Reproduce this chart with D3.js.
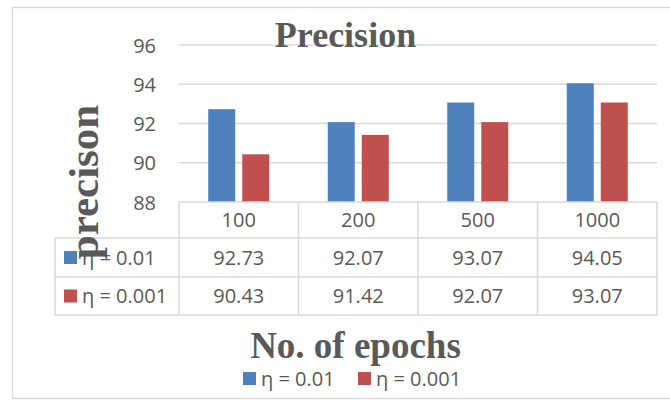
<!DOCTYPE html>
<html><head><meta charset="utf-8">
<script src="https://cdn.jsdelivr.net/npm/d3@7"></script>
<style>body{margin:0;background:#fff;}svg{display:block;}</style>
</head><body>
<svg id="c" width="670" height="400"></svg>
<script>
const categories = ["100", "200", "500", "1000"];
const seriesNames = ["η = 0.01", "η = 0.001"];
const seriesA = [92.73, 92.07, 93.07, 94.05];
const seriesB = [90.43, 91.42, 92.07, 93.07];
const yTicks = [88, 90, 92, 94, 96];
const colors = ["#4F81BD", "#C0504D"];
const seriesValues = [seriesA, seriesB];

const svg = d3.select("#c");
const grey = "#595959", lineC = "#D9D9D9";
const sans = "'Open Sans', sans-serif";
const serif = "'Liberation Serif', 'Times New Roman', serif";

// outer border
svg.append("rect").attr("x", 12.5).attr("y", 7.5).attr("width", 700).attr("height", 391)
  .attr("fill", "none").attr("stroke", lineC).attr("stroke-width", 1.3);

const x0 = d3.scaleBand().domain(categories).range([179, 657]);
const x1 = d3.scaleBand().domain(seriesNames).range([0, x0.bandwidth()]).paddingInner(0.206).paddingOuter(0.86);
const y = d3.scaleLinear().domain([88, 96]).range([202, 45]);

// gridlines
svg.append("g").selectAll("line").data(yTicks.slice(1)).join("line")
  .attr("x1", 179).attr("x2", 657).attr("y1", d => y(d)).attr("y2", d => y(d))
  .attr("stroke", lineC).attr("stroke-width", 1.5);

// y axis labels
const yAxis = d3.axisLeft(y).tickValues(yTicks).tickSize(0).tickPadding(0);
const gy = svg.append("g").attr("transform", "translate(156,0)").call(yAxis);
gy.select(".domain").remove();
gy.selectAll("text").attr("font-family", sans).attr("font-size", 20).attr("fill", grey).attr("dy", "0.35em");

// bars
const g = svg.append("g");
categories.forEach((c, i) => {
  seriesNames.forEach((s, j) => {
    const v = seriesValues[j][i];
    g.append("rect").attr("x", x0(c) + x1(s)).attr("width", x1.bandwidth())
      .attr("y", y(v)).attr("height", y(88) - y(v)).attr("fill", colors[j]);
  });
});

// data table
const rowY = [202, 238, 277, 315];
const t = svg.append("g").attr("stroke", lineC).attr("stroke-width", 1.5);
t.append("line").attr("x1", 179).attr("x2", 657).attr("y1", rowY[0]).attr("y2", rowY[0]);
[1, 2, 3].forEach(k => t.append("line").attr("x1", 55).attr("x2", 657).attr("y1", rowY[k]).attr("y2", rowY[k]));
t.append("line").attr("x1", 55).attr("x2", 55).attr("y1", rowY[1]).attr("y2", rowY[3]);
const colEdges = [179].concat(categories.map(c => x0(c) + x0.bandwidth()));
colEdges.forEach(xv => t.append("line").attr("x1", xv).attr("x2", xv).attr("y1", rowY[0]).attr("y2", rowY[3]));

const txt = svg.append("g").attr("font-family", sans).attr("font-size", 20).attr("fill", grey).attr("text-anchor", "middle");
categories.forEach((c, i) => {
  const cx = x0(c) + x0.bandwidth() / 2;
  txt.append("text").attr("x", cx).attr("y", (rowY[0] + rowY[1]) / 2).attr("dy", "0.35em").text(c);
  seriesValues.forEach((arr, j) => {
    txt.append("text").attr("x", cx).attr("y", (rowY[j + 1] + rowY[j + 2]) / 2).attr("dy", "0.35em").text(arr[i].toFixed(2));
  });
});
seriesNames.forEach((s, j) => {
  const cy = (rowY[j + 1] + rowY[j + 2]) / 2;
  svg.append("rect").attr("x", 64).attr("y", cy - 6.5).attr("width", 13).attr("height", 13).attr("fill", colors[j]);
  svg.append("text").attr("x", 82).attr("y", cy).attr("dy", "0.35em").attr("font-family", sans)
    .attr("font-size", 20).attr("fill", grey).text(s);
});

// titles
svg.append("text").attr("x", 345.5).attr("y", 47).attr("text-anchor", "middle")
  .attr("font-family", serif).attr("font-weight", "bold").attr("font-size", 36).attr("fill", grey).text("Precision");
svg.append("text").attr("x", 355.5).attr("y", 358).attr("text-anchor", "middle")
  .attr("font-family", serif).attr("font-weight", "bold").attr("font-size", 37).attr("fill", grey).text("No. of epochs");
svg.append("text").attr("transform", "translate(98,182) rotate(-90)").attr("text-anchor", "middle")
  .attr("font-family", serif).attr("font-weight", "bold").attr("font-size", 43).attr("fill", grey).text("precison");

// bottom legend
const legX = [243, 358];
seriesNames.forEach((s, j) => {
  svg.append("rect").attr("x", legX[j]).attr("y", 372).attr("width", 13).attr("height", 13).attr("fill", colors[j]);
  svg.append("text").attr("x", legX[j] + 18).attr("y", 379).attr("dy", "0.35em").attr("font-family", sans)
    .attr("font-size", 20).attr("fill", grey).text(s);
});
</script>
</body></html>
